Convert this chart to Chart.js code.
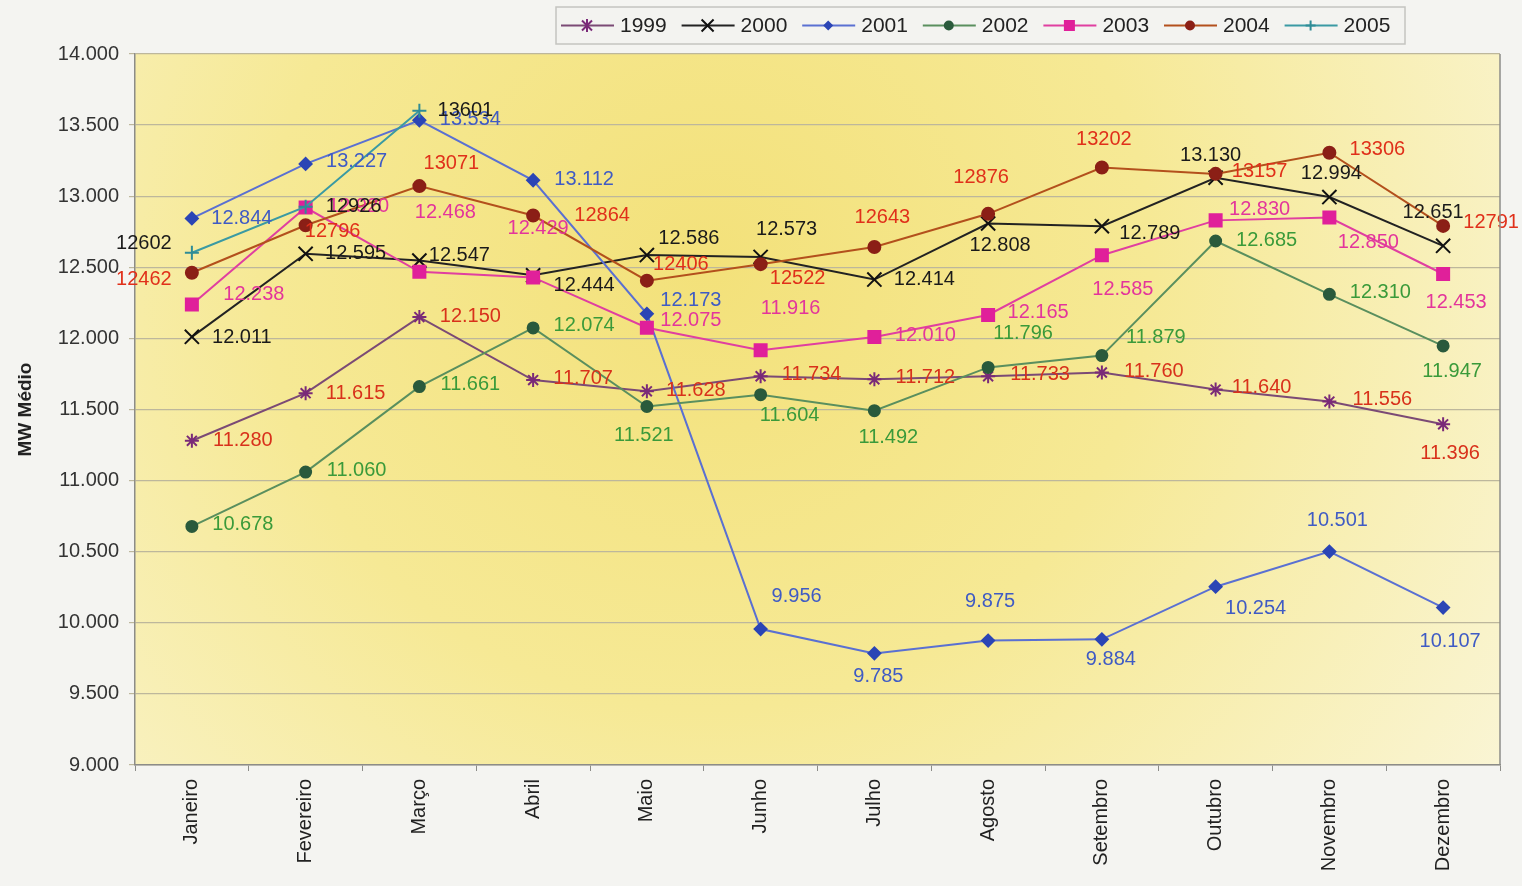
<!DOCTYPE html>
<html>
<head>
<meta charset="utf-8">
<script src="https://cdn.jsdelivr.net/npm/chart.js@4/dist/chart.umd.min.js"></script>
<style>
  body { margin: 0; background: #f4f4f1; }
  canvas { display: block; }
</style>
</head>
<body>
<canvas id="mwChart" width="1522" height="886"></canvas>
<script>
// ====== DATA ======
const months = ["Janeiro", "Fevereiro", "Março", "Abril", "Maio", "Junho",
  "Julho", "Agosto", "Setembro", "Outubro", "Novembro", "Dezembro"];
const years = ["1999", "2000", "2001", "2002", "2003", "2004", "2005"];

const mw1999 = [11280, 11615, 12150, 11707, 11628, 11734, 11712, 11733, 11760, 11640, 11556, 11396];
const mw2000 = [12011, 12595, 12547, 12444, 12586, 12573, 12414, 12808, 12789, 13130, 12994, 12651];
const mw2001 = [12844, 13227, 13534, 13112, 12173, 9956, 9785, 9875, 9884, 10254, 10501, 10107];
const mw2002 = [10678, 11060, 11661, 12074, 11521, 11604, 11492, 11796, 11879, 12685, 12310, 11947];
const mw2003 = [12238, 12920, 12468, 12429, 12075, 11916, 12010, 12165, 12585, 12830, 12850, 12453];
const mw2004 = [12462, 12796, 13071, 12864, 12406, 12522, 12643, 12876, 13202, 13157, 13306, 12791];
const mw2005 = [12602, 12926, 13601];

const yMin = 9000, yMax = 14000, yStep = 500;

// ====== STYLE (line colour, marker colour, label colour, marker) ======
const seriesStyle = [
  { line: "#7b4a75", marker: "#7a2a78", label: "#d8311b", point: "star",     radius: 7,  dotted: true },
  { line: "#222222", marker: "#111111", label: "#1a1a1a", point: "crossRot", radius: 10, dotted: true },
  { line: "#5a70d2", marker: "#2b45b5", label: "#3f5bc4", point: "rectRot",  radius: 6,  dotted: true },
  { line: "#5a8f5e", marker: "#2a5a3c", label: "#3a9a3a", point: "circle",   radius: 5.5, dotted: true },
  { line: "#e03fa0", marker: "#e0209a", label: "#e3359b", point: "rect",     radius: 8.5, dotted: true },
  { line: "#b3501c", marker: "#8b1f16", label: "#e0301a", point: "circle",   radius: 6,  dotted: false },
  { line: "#3a9aa3", marker: "#2f8c96", label: "#1a1a1a", point: "cross",    radius: 7,  dotted: false }
];

// label centre offsets from each point [dx, dy]
const labelOffsets = [
  [[51,0],[50,0],[51,-1],[50,-2],[49,-1],[51,-2],[51,-2],[52,-2],[52,-1],[46,-2],[53,-2],[7,29]],
  [[50,1],[50,0],[40,-5],[51,10],[42,-17],[26,-27],[50,0],[12,22],[48,7],[-5,-22],[2,-24],[-10,-33]],
  [[50,0],[51,-2],[51,-1],[51,-1],[44,-13],[36,-33],[4,23],[2,-39],[9,20],[40,22],[8,-31],[7,34]],
  [[51,-2],[51,-2],[51,-2],[51,-2],[-3,29],[29,21],[14,27],[35,-34],[54,-18],[51,-1],[51,-2],[9,26]],
  [[62,-10],[53,-1],[26,-59],[5,-49],[44,-7],[30,-42],[51,-1],[50,-2],[21,34],[44,-11],[39,25],[13,29]],
  [[-48,7],[27,6],[32,-23],[69,0],[34,-16],[37,14],[8,-29],[-7,-36],[2,-28],[44,-2],[48,-3],[48,-3]],
  [[-48,-9],[48,0],[46,0]]
];

const allSeries = [mw1999, mw2000, mw2001, mw2002, mw2003, mw2004, mw2005];

function fmtDot(v) {
  return String(v).replace(/\B(?=(\d{3})+(?!\d))/g, ".");
}

const FONT = "'Liberation Sans', Arial, sans-serif";

// ====== PLOT BACKGROUND ======
const plotBackground = {
  id: "plotBackground",
  beforeDraw(chart) {
    const { ctx, chartArea: a } = chart;
    ctx.save();
    ctx.fillStyle = "#f4f4f1";
    ctx.fillRect(0, 0, chart.width, chart.height);
    const w = a.right - a.left, h = a.bottom - a.top;
    const g = ctx.createRadialGradient(a.left + w * 0.42, a.top + h * 0.3, 0,
      a.left + w * 0.42, a.top + h * 0.3, w * 0.72);
    g.addColorStop(0, "#f3e17a");
    g.addColorStop(0.45, "#f6e995");
    g.addColorStop(1, "#faf6da");
    ctx.fillStyle = g;
    ctx.fillRect(a.left, a.top, w, h);
    ctx.restore();
  },
  afterDraw(chart) {
    const { ctx, chartArea: a } = chart;
    ctx.save();
    ctx.strokeStyle = "#8c8c88";
    ctx.lineWidth = 1.5;
    ctx.beginPath();
    ctx.moveTo(a.right, a.top);
    ctx.lineTo(a.right, a.bottom);
    ctx.stroke();
    ctx.restore();
  }
};

// ====== DATA LABELS ======
const dataLabels = {
  id: "dataLabels",
  afterDatasetsDraw(chart) {
    const ctx = chart.ctx;
    ctx.save();
    ctx.font = "20px " + FONT;
    ctx.textAlign = "center";
    ctx.textBaseline = "middle";
    chart.data.datasets.forEach((ds, i) => {
      const meta = chart.getDatasetMeta(i);
      const st = seriesStyle[i];
      ctx.fillStyle = st.label;
      meta.data.forEach((pt, j) => {
        const v = ds.data[j];
        const off = labelOffsets[i][j] || [50, 0];
        const txt = st.dotted ? fmtDot(v) : String(v);
        ctx.fillText(txt, pt.x + off[0], pt.y + off[1]);
      });
    });
    ctx.restore();
  }
};

// ====== LEGEND ======
function drawMarker(ctx, style, x, y, r, color) {
  ctx.save();
  ctx.fillStyle = color;
  ctx.strokeStyle = color;
  ctx.lineWidth = 2;
  ctx.beginPath();
  if (style === "circle") {
    ctx.arc(x, y, r, 0, Math.PI * 2);
    ctx.fill();
  } else if (style === "rect") {
    ctx.fillRect(x - r, y - r, r * 2, r * 2);
  } else if (style === "rectRot") {
    ctx.moveTo(x, y - r); ctx.lineTo(x + r, y); ctx.lineTo(x, y + r); ctx.lineTo(x - r, y);
    ctx.closePath(); ctx.fill();
  } else if (style === "cross") {
    ctx.moveTo(x - r, y); ctx.lineTo(x + r, y); ctx.moveTo(x, y - r); ctx.lineTo(x, y + r);
    ctx.stroke();
  } else if (style === "crossRot") {
    ctx.moveTo(x - r, y - r); ctx.lineTo(x + r, y + r); ctx.moveTo(x + r, y - r); ctx.lineTo(x - r, y + r);
    ctx.stroke();
  } else if (style === "star") {
    ctx.moveTo(x - r, y - r); ctx.lineTo(x + r, y + r); ctx.moveTo(x + r, y - r); ctx.lineTo(x - r, y + r);
    ctx.moveTo(x, y - r * 1.3); ctx.lineTo(x, y + r * 1.3);
    ctx.stroke();
  }
  ctx.restore();
}

const boxLegend = {
  id: "boxLegend",
  afterDraw(chart) {
    const ctx = chart.ctx;
    const bx = 556, by = 7, bw = 849, bh = 37;
    ctx.save();
    ctx.fillStyle = "#f3f3f0";
    ctx.fillRect(bx, by, bw, bh);
    ctx.strokeStyle = "#c4c4c0";
    ctx.lineWidth = 1.5;
    ctx.strokeRect(bx, by, bw, bh);
    ctx.font = "21px " + FONT;
    ctx.textBaseline = "middle";
    ctx.textAlign = "left";
    const cy = by + bh / 2;
    years.forEach((yr, i) => {
      const st = seriesStyle[i];
      const x0 = 561 + i * 120.6;
      ctx.strokeStyle = st.line;
      ctx.lineWidth = 2;
      ctx.beginPath();
      ctx.moveTo(x0, cy);
      ctx.lineTo(x0 + 53, cy);
      ctx.stroke();
      const small = st.point === "crossRot" ? 6 : (st.point === "rect" ? 5.5 : 5);
      drawMarker(ctx, st.point, x0 + 26, cy, small, st.marker);
      ctx.fillStyle = "#222";
      ctx.fillText(yr, x0 + 59, cy + 1);
    });
    ctx.restore();
  }
};

// ====== CHART ======
const datasets = allSeries.map((vals, i) => {
  const st = seriesStyle[i];
  return {
    label: years[i],
    data: vals,
    borderColor: st.line,
    backgroundColor: st.marker,
    borderWidth: 2,
    tension: 0,
    fill: false,
    pointStyle: st.point,
    pointRadius: st.radius,
    pointBackgroundColor: st.marker,
    pointBorderColor: st.marker,
    pointBorderWidth: 2,
    order: allSeries.length - i
  };
});

new Chart(document.getElementById("mwChart").getContext("2d"), {
  type: "line",
  data: { labels: months, datasets: datasets },
  options: {
    responsive: false,
    animation: false,
    layout: { padding: { top: 54, right: 22, left: 0, bottom: 0 } },
    plugins: {
      legend: { display: false },
      tooltip: { enabled: false }
    },
    scales: {
      x: {
        offset: true,
        grid: { drawOnChartArea: false, tickLength: 6, color: "#8c8c88", offset: true },
        border: { color: "#8c8c88", width: 1.5 },
        ticks: {
          minRotation: 90,
          maxRotation: 90,
          autoSkip: false,
          padding: 8,
          color: "#222",
          font: { family: FONT, size: 20 }
        },
        afterFit(scale) { scale.height = 121; }
      },
      y: {
        min: yMin,
        max: yMax,
        grid: { color: "#bdb79c", lineWidth: 1.2, tickLength: 6 },
        border: { color: "#8c8c88", width: 1.5 },
        ticks: {
          stepSize: yStep,
          padding: 10,
          color: "#333",
          font: { family: FONT, size: 20 },
          callback: v => fmtDot(v)
        },
        title: {
          display: true,
          text: "MW Médio",
          color: "#222",
          font: { family: FONT, size: 19, weight: "bold" },
          padding: { top: 14, bottom: 0 }
        },
        afterFit(scale) { scale.width = 135; }
      }
    }
  },
  plugins: [plotBackground, dataLabels, boxLegend]
});
</script>
</body>
</html>
